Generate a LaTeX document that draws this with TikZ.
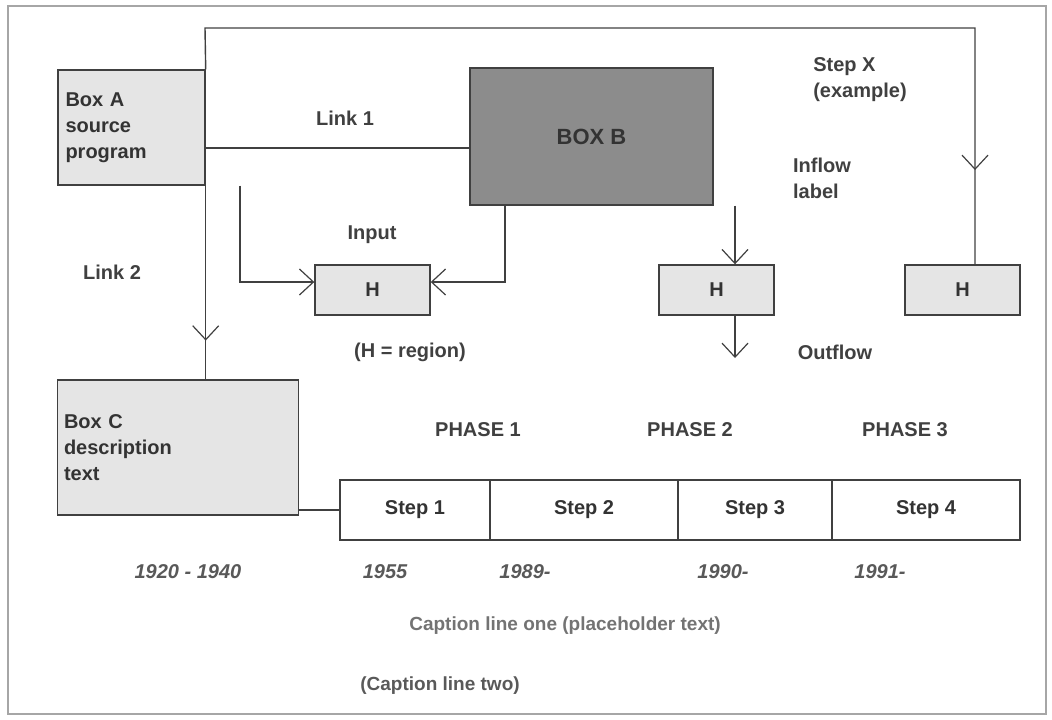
\documentclass[tikz,border=0pt]{standalone}
\usepackage{fontspec}
\setmainfont{Liberation Sans}
\usetikzlibrary{
  arrows.meta,
  decorations.markings,
  positioning,
}
\tikzset{
  >={Straight Barb[length=7pt,width=13pt,line width=0.6pt]},
  box/.style={draw=black!75, fill=black!10, line width=0.7pt, font=\fontsize{10}{13}\selectfont\bfseries, text=black!80},
  darkbox/.style={box, fill=black!45, font=\fontsize{11}{13}\selectfont\bfseries},
  lbl/.style={font=\fontsize{10}{13}\selectfont\bfseries, text=black!75, align=left},
  date/.style={font=\fontsize{10}{12}\selectfont\bfseries\itshape, text=black!65},
  link/.style={draw=black!75, line width=0.7pt},
  midarrow/.style={postaction={decorate}, decoration={markings, mark=at position #1 with {\arrow{>}}}},
}
\begin{document}
\begin{tikzpicture}[x=0.5pt, y=-0.5pt]
  \useasboundingbox (0,0) rectangle (1052,719);
  \draw [black!35, line width=1pt] (8,6) rectangle (1046,714);

  % boxes
  \node [box, minimum width=73.5pt, minimum height=57.5pt, text width=66pt, align=left] (src) at (131.5,127.5) {Box A\\source\\program};
  \node [darkbox, minimum width=121.5pt, minimum height=68.5pt] (hub) at (591.5,136.5) {BOX B};
  \node [box, minimum width=57.5pt, minimum height=25pt] (h1) at (372.5,290) {H};
  \node [box, minimum width=57.5pt, minimum height=25pt] (h2) at (716.5,290) {H};
  \node [box, minimum width=57.5pt, minimum height=25pt] (h3) at (962.5,290) {H};
  \node [box, minimum width=120pt, minimum height=67.5pt, text width=114pt, align=left] (desc) at (178,447.5) {Box C\\description\\text};

  % timeline
  \node [box, fill=white, minimum width=75pt, minimum height=30pt] (t1) at (415,510) {Step 1};
  \node [box, fill=white, minimum width=94pt, minimum height=30pt] (t2) at (584,510) {Step 2};
  \node [box, fill=white, minimum width=77pt, minimum height=30pt] (t3) at (755,510) {Step 3};
  \node [box, fill=white, minimum width=94pt, minimum height=30pt] (t4) at (926,510) {Step 4};

  % connectors
  \coordinate (top1) at (205,28);
  \coordinate (top2) at (975,28);
  \draw [link, midarrow=0.91] (src.north east) -- (top1) -- (top2) -- (h3.north -| top2);
  \draw [link] (src.east |- 0,148) -- (hub.west |- 0,148);
  \draw [link, midarrow=0.8] (src.south east) -- (desc.north -| src.south east);
  \coordinate (l1) at (240,282);
  \draw [link, ->] (src.south -| l1) -- (l1) -- (h1.west |- l1);
  \coordinate (r1) at (505,282);
  \draw [link, ->] (hub.south -| r1) -- (r1) -- (h1.east |- r1);
  \coordinate (d2) at (735,0);
  \draw [link, ->] (hub.south -| d2) -- (h2.north -| d2);
  \coordinate (out) at (735,358);
  \draw [link, ->] (h2.south -| out) -- (out);
  \draw [link] (desc.east |- t1.west) -- (t1.west);

  % labels
  \node [lbl] (lnk1) at (345,118) {Link 1};
  \node [lbl] (lnk2) at (112,272) {Link 2};
  \node [lbl] (inp) at (372,235) {Input};
  \node [lbl] (hnote) at (410,352) {(H = region)};
  \node [lbl, align=left] (stepx) at (860,80) {Step X\\(example)};
  \node [lbl, align=left] (inflow) at (822,178) {Inflow\\label};
  \node [lbl] (outflow) at (835,352) {Outflow};
  \node [lbl] (ph1) at (478,430) {PHASE 1};
  \node [lbl] (ph2) at (690,430) {PHASE 2};
  \node [lbl] (ph3) at (905,430) {PHASE 3};

  % dates
  \node [date] (y1) at (188,572) {1920 - 1940};
  \node [date] (y2) at (385,572) {1955};
  \node [date] (y3) at (525,572) {1989-};
  \node [date] (y4) at (723,572) {1990-};
  \node [date] (y5) at (880,572) {1991-};

  % captions
  \node [lbl, font=\fontsize{9.5}{12}\selectfont\bfseries, text=black!55] (cap1) at (565,626) {Caption line one (placeholder text)};
  \node [lbl, font=\fontsize{9.5}{12}\selectfont\bfseries, text=black!65] (cap2) at (440,686) {(Caption line two)};
\end{tikzpicture}
\end{document}
